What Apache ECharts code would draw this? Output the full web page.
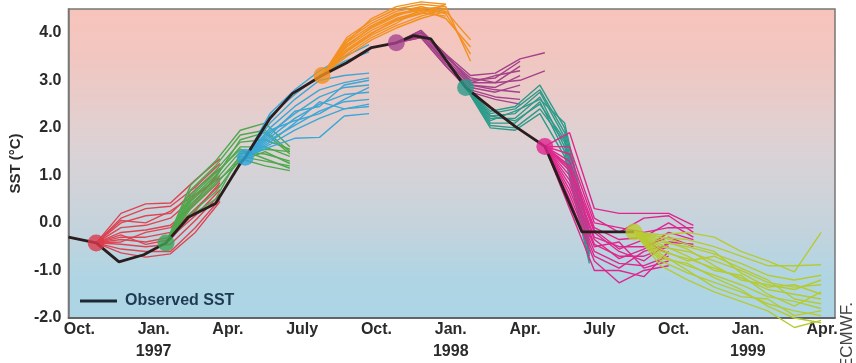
<!DOCTYPE html>
<html>
<head>
<meta charset="utf-8">
<script src="https://cdn.jsdelivr.net/npm/echarts@6/dist/echarts.min.js"></script>
<style>
  html, body { margin: 0; padding: 0; background: #fff; }
  #chart { width: 856px; height: 363px; }
</style>
</head>
<body>
<div id="chart"></div>
<script>
// observed SST (months counted from Oct 1996)
var obsMonths = [-0.44, 0.68, 1.6, 2.6, 3.5, 4.4, 5.5, 6.5, 6.7, 7.7, 8.6, 9.8, 10.8, 11.8, 12.8, 13.5, 14.2, 15.6, 16.6, 17.6, 18.8, 20.3, 22.4];
var obsValues = [-0.3, -0.42, -0.82, -0.67, -0.42, 0.12, 0.41, 1.25, 1.38, 2.2, 2.72, 3.1, 3.37, 3.69, 3.79, 3.94, 3.87, 2.85, 2.43, 2.03, 1.61, -0.19, -0.19];

// forecast plumes: start month of each, month step between points
var startMonths = [0.68, 3.5, 6.7, 9.8, 12.8, 15.6, 18.8, 22.4];
var stepMonths = [1, 1, 1, 1, 1, 1, 1, 1.08];
var lineColors = ['#dd4553', '#4fa84c', '#3aa7d6', '#f2911f', '#a3418a', '#2b9b8a', '#e0268e', '#b6cb32'];
var dotColors = ['#d93a4b', '#3fa557', '#2ea4d8', '#f0901e', '#a5448e', '#2a9a88', '#e0258f', '#bccb30'];

var redRuns = [
  [-0.42, 0.2, 0.4, 0.42, 0.9, 1.35],
  [-0.42, 0.1, 0.3, 0.35, 0.75, 1.25],
  [-0.42, 0.0, 0.15, 0.2, 0.7, 1.15],
  [-0.42, -0.1, -0.05, 0.1, 0.55, 1.0],
  [-0.42, -0.2, -0.15, -0.05, 0.4, 0.9],
  [-0.42, -0.3, -0.3, -0.2, 0.3, 0.8],
  [-0.42, -0.35, -0.4, -0.3, 0.15, 0.7],
  [-0.42, -0.45, -0.5, -0.45, 0.05, 0.6],
  [-0.42, -0.55, -0.6, -0.6, -0.1, 0.5],
  [-0.42, -0.63, -0.72, -0.65, -0.2, 0.45],
  [-0.42, -0.25, -0.45, -0.35, 0.25, 0.85],
  [-0.42, -0.4, -0.2, -0.1, 0.45, 1.1],
  [-0.42, 0.05, 0.0, 0.25, 0.6, 0.95]
];
var greenRuns = [
  [-0.42, 0.8, 1.3, 1.95, 2.1, 1.6],
  [-0.42, 0.7, 1.2, 1.85, 1.95, 1.5],
  [-0.42, 0.6, 1.1, 1.7, 1.75, 1.55],
  [-0.42, 0.5, 1.0, 1.6, 1.6, 1.4],
  [-0.42, 0.4, 0.9, 1.5, 1.45, 1.3],
  [-0.42, 0.3, 0.8, 1.4, 1.3, 1.2],
  [-0.42, 0.2, 0.65, 1.35, 1.2, 1.1],
  [-0.42, 0.15, 0.5, 1.45, 1.55, 1.5],
  [-0.42, 0.55, 1.05, 1.55, 1.35, 1.15],
  [-0.42, 0.45, 0.95, 1.75, 1.9, 1.45],
  [-0.42, 0.35, 0.85, 1.3, 1.5, 1.25]
];
var blueRuns = [
  [1.38, 2.3, 2.8, 3.2, 3.5, 3.75],
  [1.38, 2.25, 2.7, 3.1, 3.4, 3.6],
  [1.38, 2.1, 2.6, 3.0, 3.1, 3.15],
  [1.38, 2.0, 2.45, 2.8, 2.95, 3.05],
  [1.38, 1.9, 2.3, 2.65, 2.85, 2.9],
  [1.38, 1.8, 2.2, 2.5, 2.7, 2.75],
  [1.38, 1.75, 2.05, 2.35, 2.55, 2.6],
  [1.38, 1.65, 1.95, 2.2, 2.4, 2.45],
  [1.38, 1.6, 1.78, 1.8, 2.25, 2.3],
  [1.38, 1.7, 2.1, 2.55, 2.4, 2.5],
  [1.38, 1.85, 2.35, 2.45, 2.9, 3.0],
  [1.38, 1.95, 2.15, 2.3, 2.6, 2.85]
];
var orangeRuns = [
  [3.1, 3.9, 4.25, 4.5, 4.6, 4.55, 3.4],
  [3.1, 3.85, 4.2, 4.45, 4.55, 4.4, 3.55],
  [3.1, 3.8, 4.15, 4.4, 4.5, 4.3, 3.7],
  [3.1, 3.75, 4.1, 4.35, 4.55, 4.45, 3.85],
  [3.1, 3.7, 4.05, 4.3, 4.45, 4.5],
  [3.1, 3.65, 4.0, 4.25, 4.4, 4.6],
  [3.1, 3.6, 3.95, 4.2, 4.5, 4.55],
  [3.1, 3.55, 3.9, 4.15, 4.35, 4.5],
  [3.1, 3.5, 3.85, 4.1, 4.3, 4.45],
  [3.1, 3.8, 4.3, 4.55, 4.65, 4.6],
  [3.1, 3.72, 4.12, 4.38, 4.48, 4.42],
  [3.1, 3.62, 3.98, 4.28, 4.42, 4.35]
];
var purpleRuns = [
  [3.79, 4.05, 3.55, 3.1, 3.15, 3.45, 3.58],
  [3.79, 4.0, 3.5, 3.0, 3.05, 3.4],
  [3.79, 4.0, 3.45, 2.95, 2.95, 3.3],
  [3.79, 3.95, 3.4, 2.9, 2.85, 3.1],
  [3.79, 3.95, 3.35, 2.85, 2.75, 2.9],
  [3.79, 3.9, 3.3, 2.8, 2.65, 2.6],
  [3.79, 3.9, 3.3, 2.75, 2.6, 2.5],
  [3.79, 4.0, 3.5, 3.05, 2.95, 3.0, 3.2],
  [3.79, 3.95, 3.4, 2.9, 2.8, 2.75],
  [3.79, 4.05, 3.55, 2.95, 3.1, 3.2]
];
var tealRuns = [
  [2.85, 2.35, 2.45, 2.9, 2.0, -0.3],
  [2.85, 2.3, 2.4, 2.8, 1.9, -0.45],
  [2.85, 2.25, 2.3, 2.75, 1.8, -0.6],
  [2.85, 2.2, 2.2, 2.65, 1.6, -0.7],
  [2.85, 2.1, 2.1, 2.55, 1.5, -0.8],
  [2.85, 2.05, 2.0, 2.4, 1.7, -0.5],
  [2.85, 2.0, 1.95, 2.3, 1.4, -0.85],
  [2.85, 2.15, 2.35, 2.6, 2.1, -0.2],
  [2.85, 2.25, 2.15, 2.5, 1.75, -0.65]
];
var magentaRuns = [
  [1.61, 1.9, 0.3, 0.2, 0.2, 0.2, -0.05],
  [1.61, 1.6, 0.1, -0.2, 0.1, 0.15, -0.2],
  [1.61, 1.3, -0.1, -0.35, -0.3, 0.0, -0.3],
  [1.61, 1.1, -0.3, -0.5, -0.5, -0.3, -0.5],
  [1.61, 0.9, -0.45, -0.7, -0.7, -0.5],
  [1.61, 0.7, -0.6, -0.85, -0.9, -0.7],
  [1.61, 0.5, -0.8, -1.26, -1.0, -0.9],
  [1.61, 0.3, -1.0, -1.0, -1.13, -0.6],
  [1.61, 1.2, -0.2, -0.6, -0.8, -0.4, -0.45],
  [1.61, 1.0, -0.35, -0.75, -0.55, -0.2, -0.35],
  [1.61, 0.8, -0.5, -0.4, -0.95, -0.8],
  [1.61, 1.45, 0.0, -0.1, -0.2, -0.1, -0.1],
  [1.61, 0.6, -0.7, -0.95, -0.6, -0.45],
  [1.61, 1.15, -0.15, -0.55, -0.35, -0.65]
];
var limeRuns = [
  [-0.19, -0.25, -0.2, -0.3, -0.6, -0.8, -1.03, -0.2],
  [-0.19, -0.3, -0.35, -0.5, -0.7, -0.9, -0.9, -0.88],
  [-0.19, -0.4, -0.5, -0.65, -0.85, -1.1, -1.2, -1.1],
  [-0.19, -0.5, -0.6, -0.8, -1.0, -1.25, -1.35, -1.3],
  [-0.19, -0.6, -0.75, -0.95, -1.15, -1.4, -1.5, -1.6],
  [-0.19, -0.7, -0.9, -1.1, -1.3, -1.55, -1.65, -1.8],
  [-0.19, -0.8, -1.05, -1.25, -1.45, -1.7, -1.85, -1.95],
  [-0.19, -0.9, -1.2, -1.45, -1.65, -1.85, -2.2, -2.05],
  [-0.19, -0.35, -0.55, -0.9, -1.2, -1.3, -1.4, -1.2],
  [-0.19, -0.45, -0.7, -1.0, -1.1, -1.5, -1.75, -1.45],
  [-0.19, -0.55, -0.8, -0.7, -0.95, -1.2, -1.6, -1.7],
  [-0.19, -0.65, -1.0, -1.35, -1.55, -1.6, -1.95, -1.85],
  [-0.19, -0.3, -0.45, -0.6, -1.05, -1.35, -1.3, -1.5],
  [-0.19, -0.75, -0.85, -1.15, -1.4, -1.75, -2.0, -2.1]
];
var plumes = [redRuns, greenRuns, blueRuns, orangeRuns, purpleRuns, tealRuns, magentaRuns, limeRuns];

// axis ticks
var xTickMonths = [0, 3, 6, 9, 12, 15, 18, 21, 24, 27, 30];
var xTickLabels = ['Oct.', 'Jan.\n1997', 'Apr.', 'July', 'Oct.', 'Jan.\n1998', 'Apr.', 'July', 'Oct.', 'Jan.\n1999', 'Apr.'];
var yTicks = [-2, -1, 0, 1, 2, 3, 4];

var myChart = echarts.init(document.getElementById('chart'));

var series = [];
plumes.forEach(function (runs, p) {
  runs.forEach(function (run) {
    series.push({
      type: 'line',
      silent: true,
      symbol: 'none',
      clip: false,
      z: 2,
      lineStyle: { color: lineColors[p], width: 1.4 },
      data: run.map(function (v, k) { return [startMonths[p] + k * stepMonths[p], v]; })
    });
  });
});

series.push({
  name: 'Observed SST',
  type: 'line',
  symbol: 'none',
  z: 3,
  color: '#1e2a33',
  lineStyle: { color: '#2a1d1d', width: 2.8 },
  data: obsMonths.map(function (m, i) { return [m, obsValues[i]]; })
});

series.push({
  type: 'scatter',
  silent: true,
  z: 4,
  symbolSize: 17,
  data: plumes.map(function (runs, p) {
    return { value: [startMonths[p], runs[0][0]], itemStyle: { color: dotColors[p] } };
  })
});

myChart.setOption({
  animation: false,
  grid: {
    left: 65, right: 21, top: 9, bottom: 43,
    show: true,
    borderColor: '#777',
    borderWidth: 1.5,
    backgroundColor: new echarts.graphic.LinearGradient(0, 0, 0, 1, [
      { offset: 0, color: '#f7c4bb' },
      { offset: 0.15, color: '#f2c6c0' },
      { offset: 0.45, color: '#dcd2d5' },
      { offset: 0.7, color: '#c5d3dc' },
      { offset: 0.87, color: '#afd5e4' },
      { offset: 1, color: '#acd5e5' }
    ])
  },
  legend: {
    left: 75, top: 288,
    data: ['Observed SST'],
    icon: 'rect',
    itemWidth: 37, itemHeight: 3,
    textStyle: { color: '#1e3a50', fontSize: 16, fontWeight: 'bold', fontFamily: 'Liberation Sans', padding: [0, 0, 0, 3] }
  },
  xAxis: {
    type: 'value',
    min: -0.44, max: 30.52,
    splitLine: { show: false },
    axisTick: { show: false },
    axisLine: { onZero: false, lineStyle: { color: '#555', width: 1.5 } },
    axisLabel: {
      customValues: xTickMonths,
      margin: 1,
      lineHeight: 22,
      color: '#2a2a2a',
      fontSize: 16,
      fontWeight: 'bold',
      fontFamily: 'Liberation Sans',
      formatter: function (v) {
        var i = xTickMonths.indexOf(v);
        return i >= 0 ? xTickLabels[i] : '';
      }
    }
  },
  yAxis: {
    type: 'value',
    min: -2, max: 4.5,
    name: 'SST (°C)',
    nameLocation: 'middle',
    nameGap: 42,
    nameTextStyle: { color: '#2a2a2a', fontSize: 15, fontWeight: 'bold', fontFamily: 'Liberation Sans' },
    splitLine: { show: false },
    axisTick: { show: false },
    axisLine: { show: true, onZero: false, lineStyle: { color: '#777', width: 1.5 } },
    axisLabel: {
      customValues: yTicks,
      margin: 7,
      color: '#2a2a2a',
      fontSize: 16,
      fontWeight: 'bold',
      fontFamily: 'Liberation Sans',
      formatter: function (v) { return v.toFixed(1); }
    }
  },
  graphic: [{
    type: 'text',
    x: 847, y: 302,
    rotation: Math.PI / 2,
    style: {
      text: '©ECMWF.',
      fill: '#444',
      font: '17px "Liberation Sans"',
      align: 'right',
      verticalAlign: 'middle'
    }
  }],
  series: series
});
</script>
</body>
</html>
